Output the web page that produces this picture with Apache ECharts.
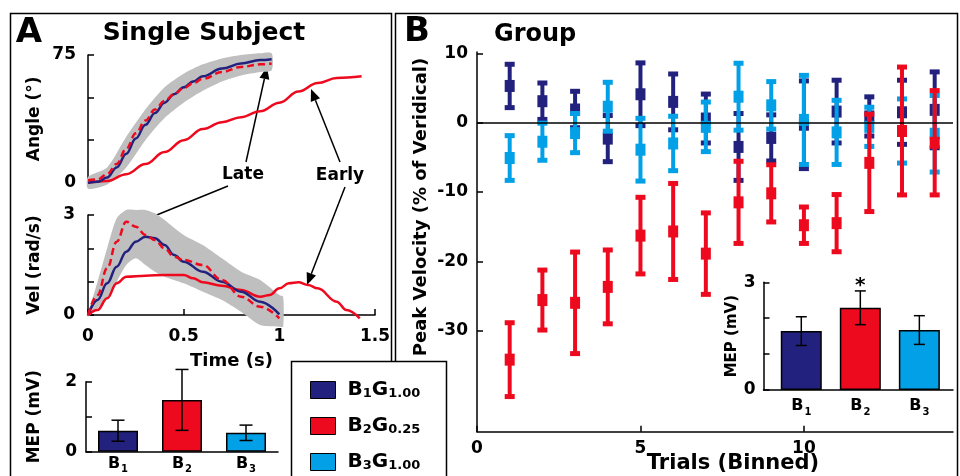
<!DOCTYPE html>
<html>
<head>
<meta charset="utf-8">
<script src="https://cdn.jsdelivr.net/npm/echarts@6/dist/echarts.min.js"></script>
<style>
html, body { margin: 0; padding: 0; background: #fff; }
#main { width: 960px; height: 476px; }
</style>
</head>
<body>
<div id="main"></div>
<script>
// A: angle traces (deg)
let angT = [0, 0.05, 0.1, 0.15, 0.2, 0.25, 0.3, 0.35, 0.4, 0.45, 0.5, 0.55, 0.6, 0.7, 0.8, 0.9, 0.96];
let angB1 = [0, 0.5, 3, 9, 17, 26, 34, 41, 47, 52, 56, 59.5, 62.5, 67, 70, 72, 72.5];
let angB2Late = [1.5, 2, 5, 11, 20, 29, 36.5, 43, 48, 52, 55.5, 58.5, 61, 65, 68, 69.5, 70];
let angEarlyT = [0, 0.1, 0.2, 0.3, 0.4, 0.5, 0.6, 0.7, 0.8, 0.9, 1.0, 1.1, 1.2, 1.3, 1.43];
let angEarly = [0, 1, 5, 11, 18, 25, 31.5, 35.5, 38.5, 42, 47, 53.5, 58.5, 61.5, 62.5];
let angBandT = [0, 0.1, 0.2, 0.3, 0.4, 0.5, 0.6, 0.7, 0.8, 0.9, 0.96];
let angBandHi = [3.5, 9, 27, 43, 56, 64, 69.5, 73, 75, 76, 76];
let angBandLo = [-3.5, -1, 9, 25, 38, 47, 54, 59.5, 63, 65, 66];

// A: velocity traces (rad/s)
let velT = [0, 0.05, 0.1, 0.15, 0.2, 0.25, 0.3, 0.35, 0.4, 0.45, 0.5, 0.6, 0.7, 0.8, 0.9, 1.0];
let velB1 = [0, 0.45, 0.95, 1.45, 1.9, 2.2, 2.35, 2.3, 2.1, 1.8, 1.6, 1.3, 1.0, 0.7, 0.4, 0.02];
let velB2Late = [0, 0.6, 1.4, 2.2, 2.8, 2.65, 2.4, 2.25, 2.0, 1.75, 1.65, 1.5, 1.05, 0.55, 0.25, -0.1];
let velEarlyT = [0, 0.05, 0.1, 0.15, 0.2, 0.3, 0.4, 0.5, 0.55, 0.6, 0.7, 0.8, 0.9, 0.95, 1.0, 1.05, 1.1, 1.15, 1.2, 1.3, 1.35, 1.42];
let velEarly = [0, 0.15, 0.5, 0.95, 1.15, 1.18, 1.2, 1.2, 1.1, 0.98, 0.88, 0.75, 0.55, 0.6, 0.8, 0.95, 0.98, 0.9, 0.8, 0.4, 0.15, -0.1];
let velBandT = [0, 0.05, 0.1, 0.15, 0.2, 0.25, 0.3, 0.35, 0.4, 0.5, 0.6, 0.7, 0.8, 0.9, 1.0, 1.02];
let velBandHi = [0.05, 1.0, 2.0, 2.9, 3.15, 3.15, 3.15, 3.05, 2.85, 2.4, 2.1, 1.7, 1.3, 1.05, 0.6, 0.55];
let velBandLo = [-0.05, 0.2, 0.5, 1.0, 1.5, 1.7, 1.5, 1.3, 1.15, 0.95, 0.7, 0.45, 0.1, -0.3, -0.35, -0.35];

// MEP bars
let mepCats = ['1', '2', '3'];
let mepA = [0.6, 1.48, 0.54];
let mepAErr = [0.3, 0.87, 0.22];
let mepB = [1.64, 2.29, 1.67];
let mepBErr = [0.4, 0.47, 0.4];

// B: group peak velocity per binned trial
let trials = [1, 2, 3, 4, 5, 6, 7, 8, 9, 10, 11, 12, 13, 14];
let b1Mean = [5.3, 3.1, 1.9, -2.3, 4.1, 3.0, 0.6, -3.5, -2.2, -0.3, 1.6, 0.9, 1.5, 1.85];
let b1Err = [3.2, 2.7, 2.7, 3.4, 4.6, 4.1, 3.6, 4.9, 3.4, 6.4, 4.6, 2.9, 4.7, 5.55];
let b2Mean = [-34.2, -25.6, -26.0, -23.7, -16.3, -15.7, -18.9, -11.5, -10.2, -14.8, -14.5, -5.8, -1.2, -2.9];
let b2Err = [5.4, 4.4, 7.4, 5.4, 5.6, 7.0, 5.95, 6.0, 4.2, 2.7, 4.2, 7.1, 9.3, 7.6];
let b3Mean = [-5.1, -2.75, -1.5, 2.3, -3.9, -3.0, -0.6, 3.75, 2.5, 0.4, -1.4, -0.6, -1.2, -1.6];
let b3Err = [3.3, 2.75, 2.9, 3.6, 4.6, 4.0, 3.65, 4.9, 3.5, 6.5, 4.7, 2.9, 4.7, 5.6];
let names = ['B1G1.00', 'B2G0.25', 'B3G1.00'];

let font = 'DejaVu Sans';
let navy = '#22227e', red = '#ee0a1e', sky = '#02a0e6', gray = '#bfbfbf';
let barColors = [navy, red, sky];

let myChart = echarts.init(document.getElementById('main'));

let bold = function(size) {
    return {color: '#000', fontFamily: font, fontWeight: 'bold', fontSize: size};
};

let subRich = {
    b: {fontFamily: font, fontWeight: 'bold', fontSize: 16, color: '#000', lineHeight: 18, verticalAlign: 'top'},
    s: {fontFamily: font, fontWeight: 'bold', fontSize: 10, color: '#000', lineHeight: 12, padding: [9, 0, 0, 1], verticalAlign: 'top'}
};

function xAx(grid, o) {
    return Object.assign({
        type: 'value', gridIndex: grid,
        axisLine: {show: true, onZero: false, lineStyle: {color: '#000', width: 1.5}},
        axisTick: {show: false},
        axisLabel: {show: false},
        splitLine: {show: false}
    }, o);
}

function yAx(grid, min, max, ticks, labels, margin, size, name, gap, nameSize) {
    return {
        type: 'value', gridIndex: grid, min: min, max: max,
        axisLine: {show: true, onZero: false, lineStyle: {color: '#000', width: 1.5}},
        axisTick: {show: true, inside: true, length: 6, customValues: ticks, lineStyle: {color: '#000', width: 1.5}},
        axisLabel: Object.assign({customValues: labels, margin: margin}, bold(size)),
        splitLine: {show: false},
        name: name, nameLocation: 'middle', nameGap: gap, nameRotate: 90,
        nameTextStyle: bold(nameSize)
    };
}

function bandSeries(idx, tArr, hi, lo) {
    return {
        type: 'custom', xAxisIndex: idx, yAxisIndex: idx, silent: true, z: 1,
        data: [[tArr[0], lo[0]]],
        renderItem: function(params, api) {
            let pts = [];
            tArr.forEach(function(t, i) { pts.push(api.coord([t, hi[i]])); });
            for (let i = tArr.length - 1; i >= 0; i--) {
                pts.push(api.coord([tArr[i], lo[i]]));
            }
            return {type: 'polygon', shape: {points: pts, smooth: 0.25}, style: {fill: gray}};
        }
    };
}

function lineSeries(idx, tArr, vArr, color, dashed, z) {
    return {
        type: 'line', xAxisIndex: idx, yAxisIndex: idx, z: z, silent: true,
        data: tArr.map(function(t, i) { return [t, vArr[i]]; }),
        showSymbol: false, smooth: 0.4, smoothMonotone: 'x', clip: false,
        lineStyle: {color: color, width: 2.5, type: dashed ? [7, 4] : 'solid'},
        itemStyle: {color: color}
    };
}

function makeErr(half) {
    return function(params, api) {
        let x = api.value(0), m = api.value(1), e = api.value(2);
        let a = api.coord([x, m + e]), b = api.coord([x, m - e]);
        let st = {stroke: '#000', lineWidth: 1.5};
        return {type: 'group', children: [
            {type: 'line', shape: {x1: a[0], y1: a[1], x2: b[0], y2: b[1]}, style: st},
            {type: 'line', shape: {x1: a[0] - half, y1: a[1], x2: a[0] + half, y2: a[1]}, style: st},
            {type: 'line', shape: {x1: b[0] - half, y1: b[1], x2: b[0] + half, y2: b[1]}, style: st}
        ]};
    };
}

function trialErr(params, api) {
    let x = api.value(0), m = api.value(1), e = api.value(2);
    let a = api.coord([x, m + e]), b = api.coord([x, m - e]), c = api.coord([x, m]);
    let col = api.visual('color');
    return {type: 'group', children: [
        {type: 'rect', shape: {x: a[0] - 2, y: a[1], width: 4, height: b[1] - a[1]}, style: {fill: col}},
        {type: 'rect', shape: {x: a[0] - 5, y: a[1] - 2, width: 10, height: 5}, style: {fill: col}},
        {type: 'rect', shape: {x: b[0] - 5, y: b[1] - 3, width: 10, height: 5}, style: {fill: col}},
        {type: 'rect', shape: {x: c[0] - 5, y: c[1] - 6, width: 10, height: 12}, style: {fill: col}}
    ]};
}

function trialSeries(name, color, means, errs, z) {
    return {
        type: 'custom', name: name, xAxisIndex: 3, yAxisIndex: 3, z: z,
        itemStyle: {color: color},
        data: trials.map(function(t, i) { return [t, means[i], errs[i]]; }),
        renderItem: trialErr
    };
}

function arrow(x1, y1, x2, y2) {
    let ang = Math.atan2(y2 - y1, x2 - x1), L = 12, W = 5;
    let bx = x2 - L * Math.cos(ang), by = y2 - L * Math.sin(ang);
    let px = -Math.sin(ang) * W, py = Math.cos(ang) * W;
    return {type: 'group', z: 50, children: [
        {type: 'line', shape: {x1: x1, y1: y1, x2: bx, y2: by}, style: {stroke: '#000', lineWidth: 1.5}},
        {type: 'polygon', shape: {points: [[x2, y2], [bx + px, by + py], [bx - px, by - py]]}, style: {fill: '#000'}}
    ]};
}

function label(text, x, y, size, align, rot) {
    return {
        type: 'text', x: x, y: y, z: 50, rotation: rot || 0,
        style: {text: text, fill: '#000', font: 'bold ' + size + 'px "' + font + '"', align: align || 'center', verticalAlign: 'middle'}
    };
}

let option = {
    animation: false,
    textStyle: {fontFamily: font},
    grid: [
        {left: 88, top: 55, width: 287, height: 127.7},
        {left: 88, top: 215, width: 287, height: 100},
        {left: 86, top: 381.7, width: 192, height: 70},
        {left: 477, top: 52, right: 7, bottom: 44.3},
        {left: 763.5, top: 282.3, width: 189.5, height: 107.7}
    ],
    xAxis: [
        xAx(0, {min: 0, max: 1.5, show: false}),
        xAx(1, {
            min: 0, max: 1.5,
            axisTick: {show: true, inside: true, length: 6, customValues: [0, 0.5, 1, 1.5], lineStyle: {color: '#000', width: 1.5}},
            axisLabel: Object.assign({show: true, customValues: [0, 0.5, 1, 1.5], margin: 13}, bold(17)),
            name: 'Time (s)', nameLocation: 'middle', nameGap: 37, nameTextStyle: bold(18)
        }),
        xAx(2, {
            type: 'category', data: mepCats,
            axisLabel: {show: true, interval: 0, margin: 4, formatter: function(v) { return '{b|B}{s|' + v + '}'; }, rich: subRich}
        }),
        xAx(3, {
            min: 0, max: 14.56,
            axisTick: {show: true, inside: true, length: 6, customValues: [0, 5, 10], lineStyle: {color: '#000', width: 1.5}},
            axisLabel: Object.assign({show: true, customValues: [0, 5, 10], margin: 8}, bold(17))
        }),
        xAx(4, {
            min: 0.36, max: 3.57,
            axisLabel: {show: true, customValues: [1, 2, 3], margin: 8, formatter: function(v) { return '{b|B}{s|' + v + '}'; }, rich: subRich}
        })
    ],
    yAxis: [
        yAx(0, 0, 75, [0, 25, 50, 75], [0, 75], 12, 17, 'Angle (°)', 45, 17),
        yAx(1, 0, 3, [0, 1, 2, 3], [0, 3], 13, 17, 'Vel (rad/s)', 45, 17),
        yAx(2, 0, 2, [0, 1, 2], [0, 2], 9, 17, 'MEP (mV)', 43, 17),
        yAx(3, -44.6, 10.2, [-30, -20, -10, 0, 10], [-30, -20, -10, 0, 10], 9, 17, '', 47, 18),
        yAx(4, 0, 3, [0, 1, 2, 3], [0, 3], 8, 17, 'MEP (mV)', 19, 15)
    ],
    legend: {
        data: names, orient: 'vertical', left: 310, top: 380, padding: 0, z: 10,
        itemWidth: 25, itemHeight: 17, itemGap: 16, icon: 'rect', selectedMode: false,
        itemStyle: {borderColor: '#000', borderWidth: 1},
        formatter: function(name) {
            return '{b|B}{s|' + name.charAt(1) + '}{b|G}{s|' + name.slice(3) + '}';
        },
        textStyle: {
            padding: [0, 0, 0, 7],
            rich: {
                b: {fontFamily: font, fontWeight: 'bold', fontSize: 20, color: '#000', lineHeight: 20, verticalAlign: 'bottom'},
                s: {fontFamily: font, fontWeight: 'bold', fontSize: 13, color: '#000', lineHeight: 15, verticalAlign: 'bottom'}
            }
        }
    },
    series: [
        bandSeries(0, angBandT, angBandHi, angBandLo),
        lineSeries(0, angEarlyT, angEarly, red, false, 2),
        lineSeries(0, angT, angB1, navy, false, 3),
        lineSeries(0, angT, angB2Late, red, true, 4),
        bandSeries(1, velBandT, velBandHi, velBandLo),
        lineSeries(1, velEarlyT, velEarly, red, false, 2),
        lineSeries(1, velT, velB1, navy, false, 3),
        lineSeries(1, velT, velB2Late, red, true, 4),
        {
            type: 'bar', xAxisIndex: 2, yAxisIndex: 2, barWidth: 40, silent: true,
            itemStyle: {borderColor: '#000', borderWidth: 1.5},
            data: mepA.map(function(v, i) { return {value: v, itemStyle: {color: barColors[i]}}; })
        },
        {
            type: 'custom', xAxisIndex: 2, yAxisIndex: 2, z: 3, silent: true,
            data: mepA.map(function(v, i) { return [i, v, mepAErr[i]]; }),
            renderItem: makeErr(6.5)
        },
        {
            type: 'line', xAxisIndex: 3, yAxisIndex: 3, data: [], z: 1, silent: true,
            markLine: {
                silent: true, symbol: 'none', label: {show: false},
                lineStyle: {color: '#000', width: 1.5, type: 'solid'},
                data: [{yAxis: 0}]
            }
        },
        trialSeries(names[0], navy, b1Mean, b1Err, 2),
        trialSeries(names[2], sky, b3Mean, b3Err, 3),
        trialSeries(names[1], red, b2Mean, b2Err, 4),
        {
            type: 'bar', xAxisIndex: 4, yAxisIndex: 4, barWidth: 41, silent: true,
            itemStyle: {borderColor: '#000', borderWidth: 1.5},
            data: mepB.map(function(v, i) {
                let d = {value: [i + 1, v], itemStyle: {color: barColors[i]}};
                if (i === 1) {
                    d.label = Object.assign({show: true, position: 'top', distance: 12, formatter: '*'}, bold(20));
                }
                return d;
            })
        },
        {
            type: 'custom', xAxisIndex: 4, yAxisIndex: 4, z: 3, silent: true,
            data: mepB.map(function(v, i) { return [i + 1, v, mepBErr[i]]; }),
            renderItem: makeErr(5.5)
        }
    ],
    graphic: [
        {type: 'rect', z: 0, shape: {x: 10.5, y: 13.5, width: 381, height: 500}, style: {fill: 'none', stroke: '#000', lineWidth: 1.5}},
        {type: 'rect', z: 0, shape: {x: 395.5, y: 13.5, width: 562, height: 500}, style: {fill: 'none', stroke: '#000', lineWidth: 1.5}},
        {type: 'rect', z: 3, shape: {x: 291.5, y: 361.5, width: 155, height: 130}, style: {fill: '#fff', stroke: '#000', lineWidth: 1.5}},
        label('A', 29, 33, 34),
        label('Single Subject', 204, 33, 25),
        label('B', 417, 32, 34),
        label('Group', 494, 35, 24, 'left'),
        label('Late', 243, 175, 17),
        label('Early', 340, 176, 17),
        label('Trials (Binned)', 733, 464, 21),
        label('Peak Velocity (% of Veridical)', 421, 207, 18, 'center', Math.PI / 2),
        arrow(246, 162, 267, 67),
        arrow(228, 186, 137, 223),
        arrow(340, 162, 311, 89),
        arrow(345, 187, 307, 285)
    ]
};

myChart.setOption(option);
</script>
</body>
</html>
